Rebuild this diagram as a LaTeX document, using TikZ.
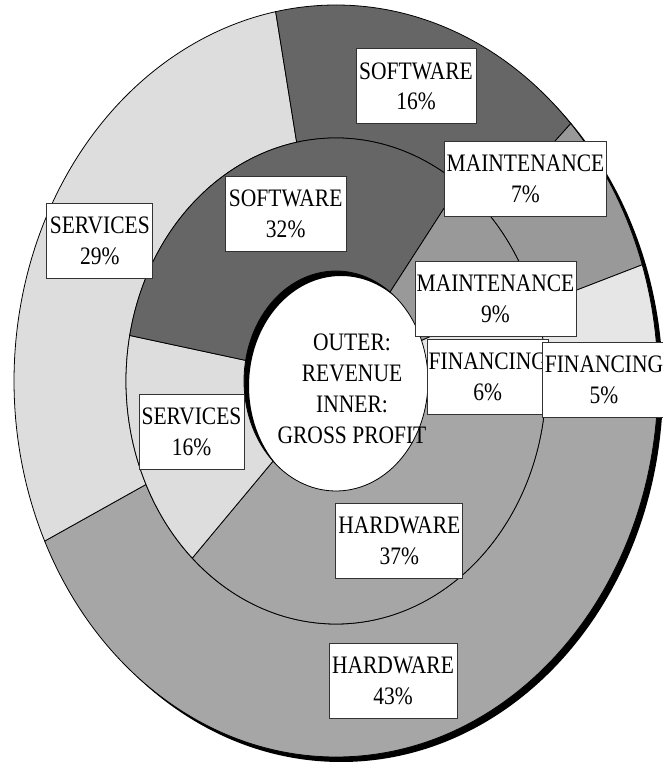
\documentclass[tikz,border=0pt]{standalone}
\usepackage{fontspec}
\setmainfont{Liberation Serif}[FakeStretch=0.856]
\usetikzlibrary{calc}
\definecolor{swgray}{HTML}{666666}
\definecolor{mtgray}{HTML}{999999}
\definecolor{hwgray}{HTML}{A6A6A6}
\definecolor{svgray}{HTML}{DDDDDD}
\definecolor{fngray}{HTML}{E6E6E6}
\tikzstyle{slice}=[draw=black, line width=0.45pt]
\tikzstyle{databox}=[draw=black!80, fill=white, line width=0.5pt, align=center, inner xsep=0.03cm, inner ysep=0pt, minimum height=1.5cm]
\newcommand{\outerslice}[3]{\filldraw[slice, fill=#3] ($(ctr)+(#1:322 and 376)$) arc[start angle=#1, end angle=#2, x radius=322, y radius=376] -- ($(ctr)+(#2:210 and 243)$) arc[start angle=#2, end angle=#1, x radius=210, y radius=243] -- cycle;}
\newcommand{\innerslice}[3]{\filldraw[slice, fill=#3] ($(ctr)+(#1:210 and 243)$) arc[start angle=#1, end angle=#2, x radius=210, y radius=243] -- ($(ctr)+(#2:92 and 110)$) arc[start angle=#2, end angle=#1, x radius=92, y radius=110] -- cycle;}

\begin{document}
\begin{tikzpicture}[x=0.02cm, y=0.02cm, font=\fontsize{14.3}{17.6}\selectfont]
	\useasboundingbox (0,0) rectangle (662,763);
	\coordinate (ctr) at (336,382);
	\coordinate (shd) at (341,377);
	\begin{scope}
		\fill[black, even odd rule] (shd) ellipse [x radius=322, y radius=376] (shd) ellipse [x radius=92, y radius=110];
		\outerslice{0}{-154.8}{hwgray}
		\outerslice{-154.8}{-259.2}{svgray}
		\outerslice{-259.2}{-316.8}{swgray}
		\outerslice{-316.8}{-342}{mtgray}
		\outerslice{-342}{-360}{fngray}
		\innerslice{0}{-133.2}{hwgray}
		\innerslice{-133.2}{-190.8}{svgray}
		\innerslice{-190.8}{-306}{swgray}
		\innerslice{-306}{-338.4}{mtgray}
		\innerslice{-338.4}{-360}{fngray}
	\end{scope}
	\begin{scope}
		\node (title) at (352,374) [align=center] {OUTER:\\REVENUE\\INNER:\\GROSS PROFIT};
		\node (swin) at (285.7,548.7) [databox, minimum width=2.42cm] {SOFTWARE\\32\%};
		\node (mtin) at (495.5,464) [databox, minimum width=3.22cm] {MAINTENANCE\\9\%};
		\node (fnin) at (487.8,386) [databox, minimum width=2.28cm] {FINANCING\\6\%};
		\node (svin) at (191.5,331) [databox, minimum width=2.1cm] {SERVICES\\16\%};
		\node (hwin) at (399.3,221.7) [databox, minimum width=2.54cm] {HARDWARE\\37\%};
		\node (swout) at (416,676.6) [databox, minimum width=2.4cm] {SOFTWARE\\16\%};
		\node (mtout) at (525.5,584.2) [databox, minimum width=3.24cm] {MAINTENANCE\\7\%};
		\node (fnout) at (604,382.8) [databox, minimum width=2.48cm] {FINANCING\\5\%};
		\node (svout) at (99.8,522.5) [databox, minimum width=2.12cm] {SERVICES\\29\%};
		\node (hwout) at (393,82) [databox, minimum width=2.56cm] {HARDWARE\\43\%};
	\end{scope}
\end{tikzpicture}
\end{document}
